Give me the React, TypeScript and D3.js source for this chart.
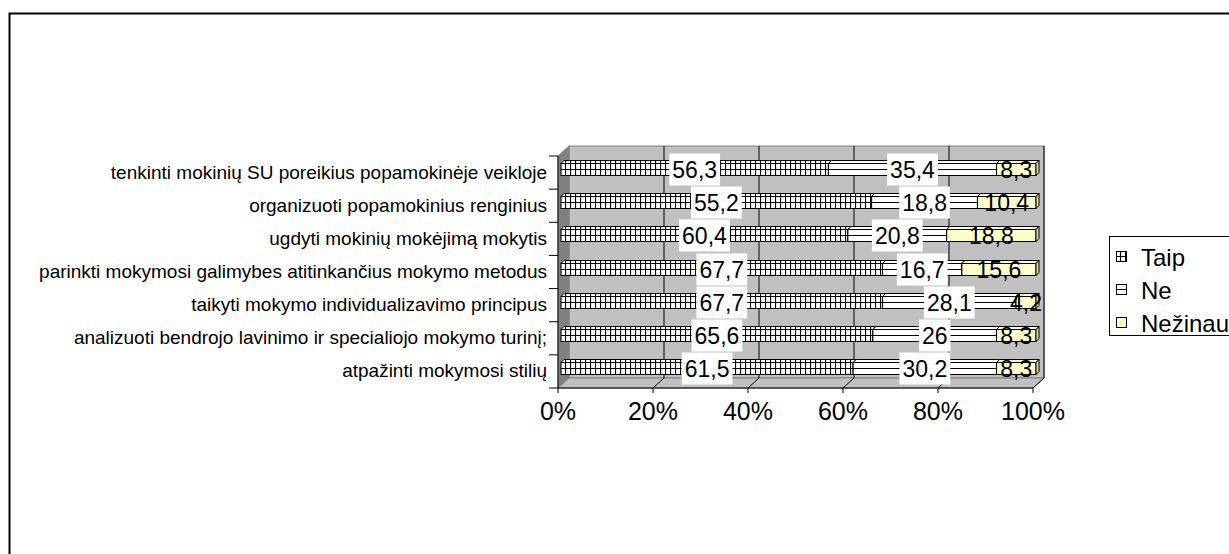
import React from 'react'
import * as d3 from 'd3'

const categories = [
  'tenkinti mokinių SU poreikius popamokinėje veikloje',
  'organizuoti popamokinius renginius',
  'ugdyti mokinių mokėjimą mokytis',
  'parinkti mokymosi galimybes atitinkančius mokymo metodus',
  'taikyti mokymo individualizavimo principus',
  'analizuoti bendrojo lavinimo ir specialiojo mokymo turinį;',
  'atpažinti mokymosi stilių',
]
const seriesNames = ['Taip', 'Ne', 'Nežinau']
const taip = [56.3, 55.2, 60.4, 67.7, 67.7, 65.6, 61.5]
const ne = [35.4, 18.8, 20.8, 16.7, 28.1, 26, 30.2]
const nezinau = [8.3, 10.4, 18.8, 15.6, 4.2, 8.3, 8.3]
const tickValues = [0, 0.2, 0.4, 0.6, 0.8, 1]

const W = 1229
const H = 554
const font = 'Arial, "Liberation Sans", sans-serif'

// front plane of the 3d plot and its depth offset
const front = { left: 558, right: 1033, top: 156, bottom: 388 }
const depth = { dx: 11, dy: -10 }
const barShift = 3
const barHalf = 6

const fmt = (v: number) => String(v).replace('.', ',')
const textW = (s: string, size: number) =>
  s.split('').reduce((a, c) => a + (c === ',' ? 0.278 : 0.556), 0) * size

export default function App() {
  const rows = categories.map((c, i) => ({ cat: c, Taip: taip[i], Ne: ne[i], 'Nežinau': nezinau[i] }))
  const stack = d3.stack<any>().keys(seriesNames).offset(d3.stackOffsetExpand)
  const layers = stack(rows)

  const x = d3.scaleLinear().domain([0, 1]).range([front.left, front.right])
  const y = d3.scaleBand<string>().domain(categories).range([front.top, front.bottom])

  const fills = ['url(#pTaip)', '#fff', '#FFFFCC']
  const sideFills = ['url(#pTaip)', '#fff', '#D8D8A0']
  const raw = [taip, ne, nezinau]

  const bars: JSX.Element[] = []
  const labels: JSX.Element[] = []
  categories.forEach((cat, i) => {
    const cy = Math.round((y(cat) as number) + y.bandwidth() / 2 - 3.5) + 0.5
    const yt = cy - barHalf
    const yb = cy + barHalf
    layers.forEach((layer, s) => {
      const [a, b] = layer[i]
      const x0 = x(a) + barShift
      const x1 = x(b) + barShift
      const d = 3
      bars.push(
        <g key={`b${i}-${s}`} stroke="#000" strokeWidth={1}>
          <polygon points={`${x0},${yt} ${x0 + d},${yt - d} ${x1 + d},${yt - d} ${x1},${yt}`} fill={fills[s]} />
          <rect x={x0} y={yt} width={x1 - x0} height={yb - yt} fill={fills[s]} />
          {s < 2 && <line x1={x0} y1={cy} x2={x1} y2={cy} />}
          <polygon points={`${x1},${yt} ${x1 + d},${yt - d} ${x1 + d},${yb - d} ${x1},${yb}`} fill={sideFills[s]} />
        </g>,
      )
      const t = fmt(raw[s][i])
      const cx = (x0 + x1) / 2
      const tw = textW(t, 23)
      labels.push(
        <g key={`l${i}-${s}`}>
          {s < 2 && <rect x={cx - tw / 2 - 3} y={cy - 16} width={tw + 6} height={32} fill="#fff" />}
          <text x={cx} y={cy + 8.5} textAnchor="middle" fontSize={23} fontFamily={font} fill="#000">
            {t}
          </text>
        </g>,
      )
    })
  })

  const bx = (v: number) => x(v) + depth.dx
  const backTop = front.top + depth.dy
  const backBottom = front.bottom + depth.dy

  return (
    <svg width={W} height={H} style={{ position: 'absolute', left: 0, top: 0, background: '#fff' }}>
      <defs>
        <pattern id="pTaip" patternUnits="userSpaceOnUse" width={5} height={40}>
          <rect width={5} height={40} fill="#fff" />
          <line x1={0.5} y1={0} x2={0.5} y2={40} stroke="#000" strokeWidth={1.2} />
        </pattern>
      </defs>

      <rect x={9.5} y={13.5} width={1240} height={560} fill="#fff" stroke="#000" strokeWidth={2} />

      {/* walls */}
      <rect x={bx(0)} y={backTop} width={bx(1) - bx(0)} height={backBottom - backTop} fill="#C0C0C0" stroke="#808080" />
      <polygon
        points={`${x(0)},${front.top} ${bx(0)},${backTop} ${bx(0)},${backBottom} ${x(0)},${front.bottom}`}
        fill="#808080"
        stroke="#808080"
      />
      <polygon
        points={`${x(0)},${front.bottom} ${bx(0)},${backBottom} ${bx(1)},${backBottom} ${x(1)},${front.bottom}`}
        fill="#C0C0C0"
        stroke="#808080"
      />
      {tickValues.slice(1).map((v) => (
        <g key={v} stroke="#000" strokeWidth={1}>
          <line x1={bx(v)} y1={backTop} x2={bx(v)} y2={backBottom} />
          <line x1={bx(v)} y1={backBottom} x2={x(v)} y2={front.bottom} />
        </g>
      ))}

      {/* category axis */}
      <line x1={x(0)} y1={front.top} x2={x(0)} y2={front.bottom} stroke="#000" />
      {d3.range(categories.length + 1).map((k) => {
        const yy = front.top + k * y.step()
        return <line key={k} x1={x(0) - 9} y1={yy} x2={x(0)} y2={yy} stroke="#000" />
      })}
      {categories.map((c) => (
        <text
          key={c}
          x={x(0) - 11}
          y={(y(c) as number) + y.bandwidth() / 2 + 6}
          textAnchor="end"
          fontSize={19}
          fontFamily={font}
          fill="#000"
        >
          {c}
        </text>
      ))}

      {/* value axis */}
      <line x1={x(0)} y1={front.bottom} x2={x(1)} y2={front.bottom} stroke="#000" />
      {tickValues.map((v) => (
        <g key={v}>
          <line x1={x(v)} y1={front.bottom} x2={x(v)} y2={front.bottom + 5} stroke="#000" />
          <text x={x(v)} y={front.bottom + 32} textAnchor="middle" fontSize={25} fontFamily={font} fill="#000">
            {`${Math.round(v * 100)}%`}
          </text>
        </g>
      ))}

      {bars}
      {labels}

      {/* legend */}
      <rect x={1109.5} y={236.5} width={200} height={99} fill="#fff" stroke="#000" />
      {seriesNames.map((n, s) => {
        const ly = 257 + s * 33
        return (
          <g key={n} stroke="#000">
            <rect x={1116.5} y={ly - 5.5} width={10} height={10} fill={fills[s]} />
            {s < 2 && <line x1={1116.5} y1={ly - 0.5} x2={1126.5} y2={ly - 0.5} />}
            <text x={1141} y={ly + 8.5} fontSize={24} fontFamily={font} fill="#000" stroke="none">
              {n}
            </text>
          </g>
        )
      })}
    </svg>
  )
}
